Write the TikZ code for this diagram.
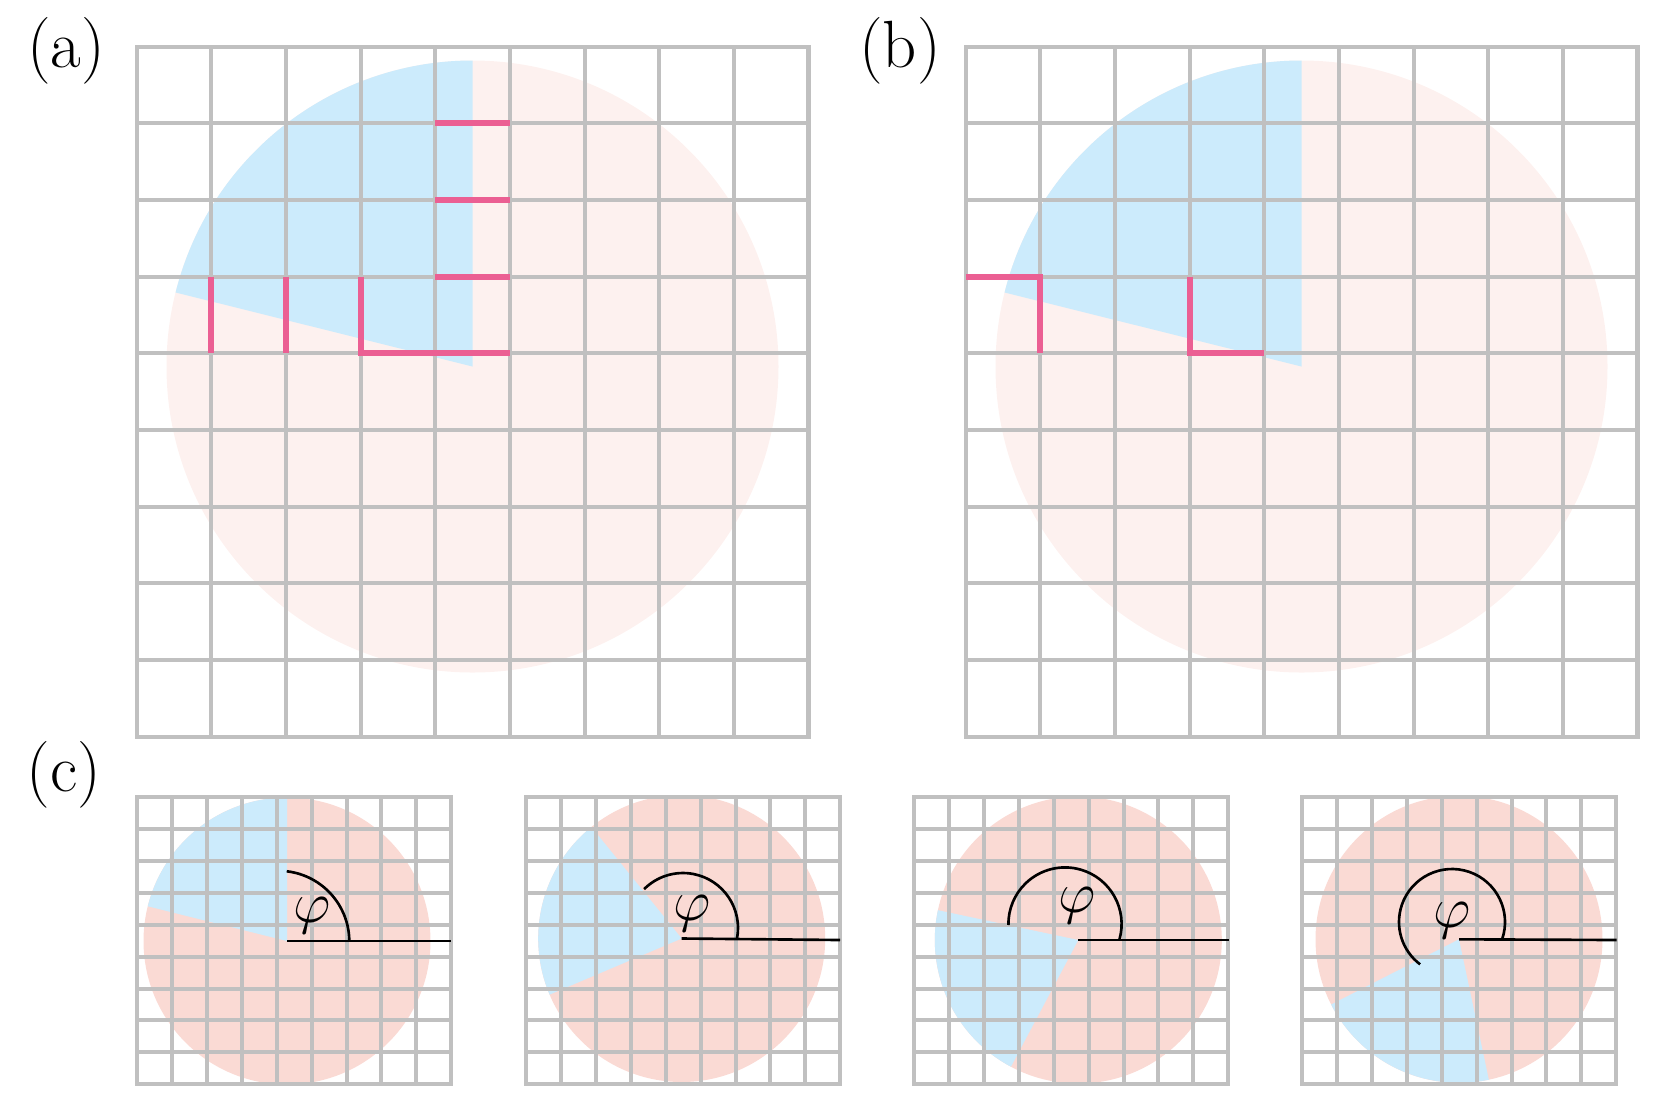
\RequirePackage{fix-cm}
\documentclass[tikz,border=0pt]{standalone}
\usetikzlibrary{positioning}
\definecolor{gridgray}{HTML}{C0C0C0}
\definecolor{wedgeblue}{HTML}{CCEBFC}
\definecolor{palepink}{HTML}{FDF1EF}
\definecolor{rosepink}{HTML}{FADAD4}
\definecolor{cutpink}{HTML}{EB5F93}

\begin{document}
\begin{tikzpicture}
[
 x=0.01cm, y=-0.01cm,
 gridline/.style = {draw=gridgray, line width=1.15pt},
 cutline/.style = {draw=cutpink, line width=1.75pt},
 angleline/.style = {draw=black, line width=0.75pt},
 panellabel/.style = {inner sep=0pt, font=\fontsize{19}{23}\selectfont},
 philabel/.style = {inner sep=0pt, font=\fontsize{16.5}{19}\selectfont},
]
\useasboundingbox (0,0) rectangle (1660,1096);

% panel labels
\node[panellabel] (labA) at (66,51) {(a)};
\node[panellabel] (labB) at (900,51) {(b)};
\node[panellabel] (labC) at (64,775) {(c)};

% (a) and (b): disc, wedge and 9x9 grid
\foreach \px in {136.7,965.7} {
  \fill[palepink] ({\px+335.8},366.5) circle (306);
  \fill[wedgeblue] ({\px+335.8},366.5) -- ++(-90:306) arc (-90:-166:306) -- cycle;
  \begin{scope}[shift={(\px,46.7)}, x=0.746cm, y=-0.766cm]
    \draw[gridline] (0,0) rectangle (9,9);
    \foreach \i in {1,...,8} {
      \draw[gridline] (\i,0) -- (\i,9);
      \draw[gridline] (0,\i) -- (9,\i);
    }
  \end{scope}
}

% cut edges in (a)
\begin{scope}[shift={(136.7,46.7)}, x=0.746cm, y=-0.766cm]
  \draw[cutline] (4,1) -- (5,1);
  \draw[cutline] (4,2) -- (5,2);
  \draw[cutline] (4,3) -- (5,3);
  \draw[cutline] (1,3) -- (1,4);
  \draw[cutline] (2,3) -- (2,4);
  \draw[cutline] (3,3) -- (3,4) -- (5,4);
\end{scope}

% cut edges in (b)
\begin{scope}[shift={(965.7,46.7)}, x=0.746cm, y=-0.766cm]
  \draw[cutline] (0,3) -- (1,3) -- (1,4);
  \draw[cutline] (3,3) -- (3,4) -- (4,4);
\end{scope}

% (c): rotated wedges
\coordinate (v1) at (287,941);
\coordinate (v2) at (681.7,938.5);
\coordinate (v3) at (1078.3,940);
\coordinate (v4) at (1459,939.3);

\fill[rosepink] (v1) circle (143.5);
\fill[wedgeblue] (v1) -- ++(-90:143.5) arc (-90:-166:143.5) -- cycle;
\fill[rosepink] (v2) circle (143.5);
\fill[wedgeblue] (v2) -- ++(-129:143.5) arc (-129:-203:143.5) -- cycle;
\fill[rosepink] (v3) circle (143.5);
\fill[wedgeblue] (v3) -- ++(-168:143.5) arc (-168:-242:143.5) -- cycle;
\fill[rosepink] (v4) circle (143.5);
\fill[wedgeblue] (v4) -- ++(-207:143.5) arc (-207:-282:143.5) -- cycle;

\foreach \px in {137,526,914,1302} {
  \begin{scope}[shift={(\px,797)}, x=0.349cm, y=-0.319cm]
    \draw[gridline] (0,0) rectangle (9,9);
    \foreach \i in {1,...,8} {
      \draw[gridline] (\i,0) -- (\i,9);
      \draw[gridline] (0,\i) -- (9,\i);
    }
  \end{scope}
}

% angle marks
\coordinate (e1) at (451,941);
\coordinate (e2) at (840,940);
\coordinate (e3) at (1228.5,940);
\coordinate (e4) at (1616.7,940);
\coordinate (o1) at (278.6,941.5);
\coordinate (o2) at (683,928);
\coordinate (o3) at (1065,924);
\coordinate (o4) at (1452,922);

\draw[angleline] (v1) -- (e1);
\draw[angleline] (v2) -- (e2);
\draw[angleline] (v3) -- (e3);
\draw[angleline] (v4) -- (e4);
\draw[angleline] (o1) ++(0:70.7) arc (0:-83.4:70.7);
\draw[angleline] (o2) ++(11:55) arc (11:-135:55);
\draw[angleline] (o3) ++(16:56.6) arc (16:-181:56.6);
\draw[angleline] (o4) ++(19:53) arc (19:-233:53);

\node[philabel] (phi1) at (312,916) {$\varphi$};
\node[philabel] (phi2) at (692,914) {$\varphi$};
\node[philabel] (phi3) at (1077,906) {$\varphi$};
\node[philabel] (phi4) at (1452,920.5) {$\varphi$};

\end{tikzpicture}
\end{document}
